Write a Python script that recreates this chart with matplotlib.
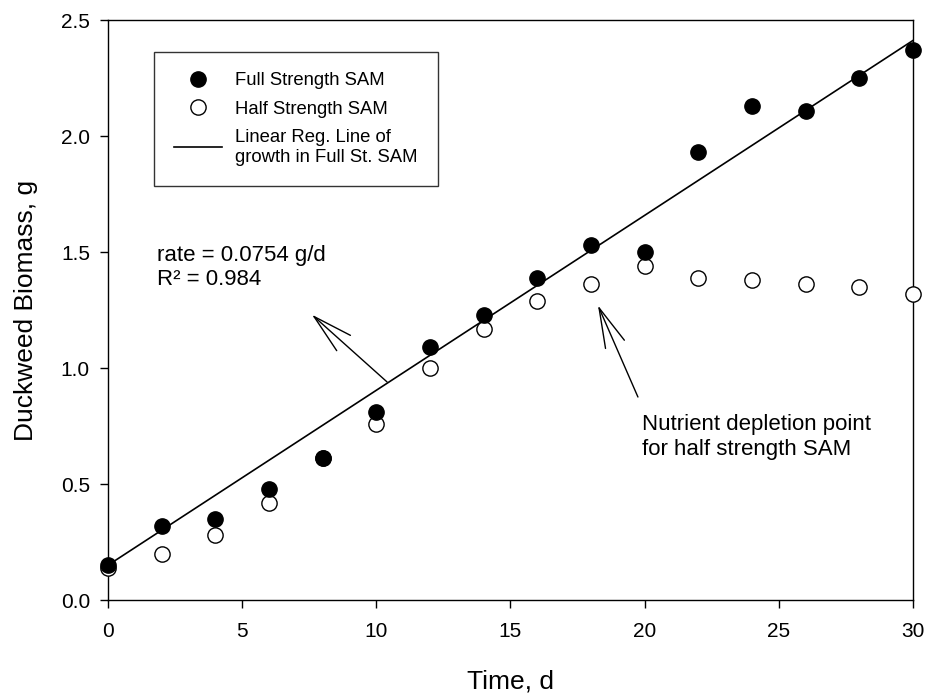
import matplotlib
matplotlib.use("Agg")
import matplotlib.pyplot as plt
from matplotlib.lines import Line2D
from matplotlib.patches import ArrowStyle
import numpy as np

plt.rcParams['font.family'] = ['Liberation Sans', 'DejaVu Sans']

# data
time_d = [0, 2, 4, 6, 8, 10, 12, 14, 16, 18, 20, 22, 24, 26, 28, 30]
full_sam = [0.15, 0.32, 0.35, 0.48, 0.61, 0.81, 1.09, 1.23, 1.39, 1.53, 1.50,
            1.93, 2.13, 2.11, 2.25, 2.37]
half_sam = [0.14, 0.20, 0.28, 0.42, 0.61, 0.76, 1.00, 1.17, 1.29, 1.36, 1.44,
            1.39, 1.38, 1.36, 1.35, 1.32]
rate = 0.0754       # g/d, slope of the regression line
intercept = 0.15    # g
r_squared = 0.984

fig = plt.figure(figsize=(9.3, 6.98), dpi=100)
ax = fig.add_axes([0.1161, 0.1404, 0.8656, 0.8309])

# regression line
xr = np.array([min(time_d), max(time_d)])
ax.plot(xr, intercept + rate * xr, color='black', lw=1.2, zorder=2)

ax.plot(time_d, full_sam, 'o', ms=11, mfc='black', mec='black', mew=1,
        clip_on=False, zorder=4)
ax.plot(time_d, half_sam, 'o', ms=11, mfc='white', mec='black', mew=1,
        clip_on=False, zorder=3)

ax.set_xlim(0, 30)
ax.set_ylim(0, 2.5)
ax.set_xticks(np.arange(0, 31, 5))
ax.set_yticks(np.arange(0, 2.51, 0.5))
ax.set_yticklabels([f"{v:.1f}" for v in np.arange(0, 2.51, 0.5)])
ax.tick_params(direction='out', length=6, width=1, labelsize=15, top=False, right=False)
ax.tick_params(axis='x', pad=10)
ax.tick_params(axis='y', pad=7)
for s in ax.spines.values():
    s.set_linewidth(1)

ax.set_xlabel("Time, d", fontsize=19, labelpad=20)
ax.set_ylabel("Duckweed Biomass, g", fontsize=19, labelpad=16)

# legend
handles = [
    Line2D([], [], ls='none', marker='o', ms=11, mfc='black', mec='black'),
    Line2D([], [], ls='none', marker='o', ms=11, mfc='white', mec='black'),
    Line2D([], [], color='black', lw=1.2),
]
labels = ["Full Strength SAM", "Half Strength SAM",
          "Linear Reg. Line of\ngrowth in Full St. SAM"]
leg = ax.legend(handles, labels, loc='upper left', bbox_to_anchor=(0.057, 0.945),
                borderaxespad=0, fontsize=13.3, frameon=True, fancybox=False,
                edgecolor='black', handlelength=2.6, handletextpad=0.7,
                labelspacing=0.62, borderpad=1.1)
leg.get_frame().set_linewidth(1)

# annotations
head = ArrowStyle('->', head_length=2.86, head_width=0.74)
ax.annotate("", xy=(7.6, 1.23), xytext=(10.4, 0.94),
            arrowprops=dict(arrowstyle=head, mutation_scale=10, lw=1,
                            color='black', shrinkA=0, shrinkB=0))
ax.text(1.83, 1.358, f"rate = {rate} g/d\nR² = {r_squared}", fontsize=16,
        va='baseline', ha='left', linespacing=1.2)

ax.annotate("", xy=(18.26, 1.27), xytext=(19.75, 0.875),
            arrowprops=dict(arrowstyle=head, mutation_scale=10, lw=1,
                            color='black', shrinkA=0, shrinkB=0))
ax.text(19.9, 0.80, "Nutrient depletion point\nfor half strength SAM",
        fontsize=16, va='top', ha='left', linespacing=1.2)

fig.savefig("out.png", dpi=100)
